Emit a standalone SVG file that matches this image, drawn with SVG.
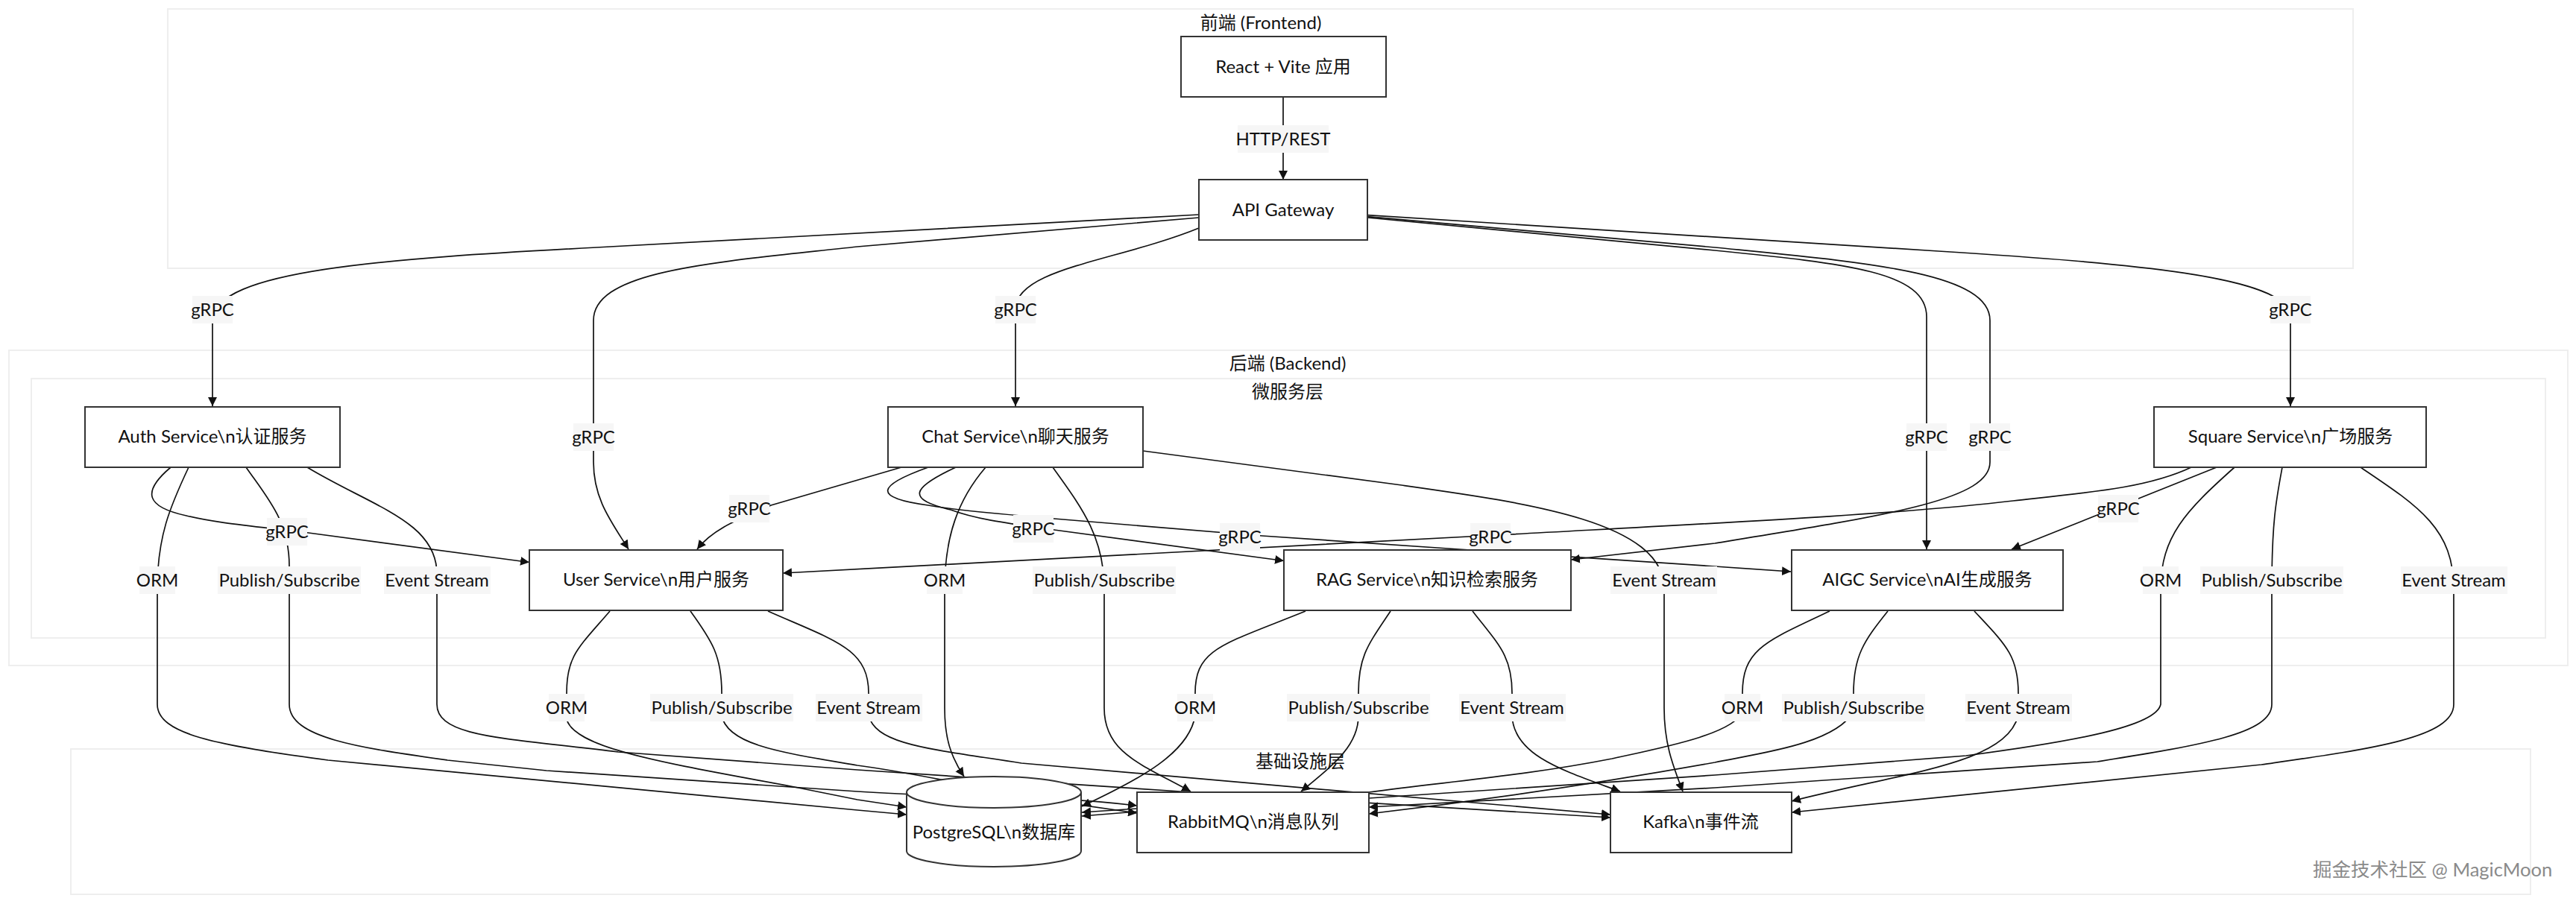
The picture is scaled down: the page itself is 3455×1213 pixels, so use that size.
<svg xmlns="http://www.w3.org/2000/svg" width="3455" height="1213" viewBox="0 0 3455 1213">
<defs>
<style>
text{font-family:"Lato","Noto Sans CJK SC",sans-serif;font-size:24px;fill:#111;text-anchor:middle}
.cluster{fill:#fff;stroke:#eee;stroke-width:2}
.node{fill:#fff;stroke:#333;stroke-width:2}
.edge{fill:none;stroke:#111;stroke-width:1.7;marker-end:url(#arrow)}
.lb{fill:#f6f6f6}
text.wm{fill:#8a8a8a;text-anchor:start;font-size:25.5px}
</style>
<marker id="arrow" markerUnits="userSpaceOnUse" viewBox="0 0 12 12" markerWidth="12" markerHeight="12" refX="12" refY="6" orient="auto"><path d="M0,0L12,6L0,12Z" fill="#111"/></marker>
</defs>
<rect width="3455" height="1213" fill="#fff"/>
<g id="clusters">
<g id="frontend"><rect class="cluster" x="225" y="12" width="2931" height="348"/><text x="1691" y="39">前端 (Frontend)</text></g>
<g id="backend"><rect class="cluster" x="12" y="470" width="3432" height="423"/><text x="1727" y="496">后端 (Backend)</text></g>
<g id="microservices"><rect class="cluster" x="42" y="508" width="3372" height="348"/><text x="1727" y="534">微服务层</text></g>
<g id="infrastructure"><rect class="cluster" x="95" y="1005" width="3299" height="195"/><text x="1744" y="1030">基础设施层</text></g>
</g>
<g id="connectors">
<path class="edge" d="M1721,130L1721,241"/>
<path class="edge" d="M1608,288L800,332C520,347 285,362 285,430L285,545"/>
<path class="edge" d="M1608,292L1150,331C960,352 796,362 796,430L796,620C796,670 820,700 843,737"/>
<path class="edge" d="M1608,306C1500,350 1362,360 1362,415L1362,545"/>
<path class="edge" d="M1834,288.6L2600,337C2850,353 3072,370 3072,425L3072,545"/>
<path class="edge" d="M1834,290.6L2300,332C2500,352 2669,365 2669,430L2669,620C2669,670 2540,690 2300,729L2107,751"/>
<path class="edge" d="M1834,292L2300,336C2480,354 2584,365 2584,425L2584,737"/>
<path class="edge" d="M229,627C190,660 195,680 250,692C290,702 340,706 414,715L710,754.5"/>
<path class="edge" d="M253,627C228,680 211,720 211,790L211,945C211,985 290,1000 440,1020L1150,1087L1216,1093"/>
<path class="edge" d="M330,627C360,670 388,700 388,760L388,945C388,990 480,1003 600,1020L733,1034L1150,1062C1300,1072 1400,1066 1525,1081"/>
<path class="edge" d="M412,627C500,680 586,700 586,770L586,945C586,990 680,990 829,1009L1150,1033L1583,1062L2160,1097"/>
<path class="edge" d="M1209,627L1034,678C1005,692 960,705 935,737"/>
<path class="edge" d="M1282,627C1222,655 1215,670 1275,684C1310,697 1350,702 1414,711L1722,752.5"/>
<path class="edge" d="M1245,627C1175,652 1170,668 1245,678C1290,686 1350,690 1414,696L1693,719L1957,737L2300,760L2402,767"/>
<path class="edge" d="M1322,627C1285,670 1267,720 1267,790L1267,950C1267,990 1275,1015 1293,1042"/>
<path class="edge" d="M1412,627C1450,680 1481,720 1481,790L1481,950C1481,1010 1530,1025 1597,1062"/>
<path class="edge" d="M1533,605L1880,651C2050,675 2232,700 2232,790L2232,950C2232,1000 2245,1030 2257,1062"/>
<path class="edge" d="M818,820C775,870 760,880 760,930L760,965C770,1005 900,1025 1063,1055.5L1150,1073L1216,1083"/>
<path class="edge" d="M926,820C955,860 968,880 968,930L968,960C975,1000 1050,1010 1150,1027C1250,1040 1350,1068 1525,1091"/>
<path class="edge" d="M1030,820C1120,860 1165,870 1165,930L1165,960C1175,1000 1250,1005 1370,1024L2160,1093"/>
<path class="edge" d="M1751,820C1640,865 1603,870 1603,930L1603,960C1595,1010 1530,1045 1451,1082"/>
<path class="edge" d="M1865,820C1835,865 1822,880 1822,930L1822,960C1822,1000 1790,1025 1745,1062"/>
<path class="edge" d="M1975,820C2010,865 2028,880 2028,930L2028,960C2030,1015 2100,1035 2173,1062"/>
<path class="edge" d="M2454,820C2370,860 2337,870 2337,930L2337,955C2325,985 2230,1003 2162,1018C2050,1040 1950,1048 1836,1063L1525,1085L1451,1090"/>
<path class="edge" d="M2532,820C2500,860 2486,880 2486,930L2486,955C2460,1000 2350,1012 2300,1023C2150,1050 1980,1075 1836,1092"/>
<path class="edge" d="M2648,820C2690,865 2707,880 2707,930L2707,960C2690,1025 2560,1035 2403,1075"/>
<path class="edge" d="M2939,627C2880,655 2800,661 2700,672C2550,690 2300,702 2026,717L1050,769"/>
<path class="edge" d="M2973,627L2698,737"/>
<path class="edge" d="M2997,627C2932,685 2898,720 2898,790L2898,945C2892,975 2780,995 2637,1014L2300,1040L1836,1071L1525,1089L1451,1095"/>
<path class="edge" d="M3061,627C3053,670 3047,700 3047,790L3047,945C3047,985 2950,1000 2813,1022L2300,1057L1836,1083"/>
<path class="edge" d="M3166,627C3245,680 3291,710 3291,790L3291,945C3291,990 3180,1005 3033,1026L2403,1090"/>
</g>
<g id="edge-labels">
<g id="l-http"><rect class="lb" x="1660" y="168" width="122" height="37"/><text x="1721" y="195">HTTP/REST</text></g>
<g><rect class="lb" x="258" y="397" width="54" height="37"/><text x="285" y="424">gRPC</text></g>
<g><rect class="lb" x="769" y="568" width="54" height="37"/><text x="796" y="595">gRPC</text></g>
<g><rect class="lb" x="1335" y="397" width="54" height="37"/><text x="1362" y="424">gRPC</text></g>
<g><rect class="lb" x="2557" y="568" width="54" height="37"/><text x="2584" y="595">gRPC</text></g>
<g><rect class="lb" x="2642" y="568" width="54" height="37"/><text x="2669" y="595">gRPC</text></g>
<g><rect class="lb" x="3045" y="397" width="54" height="37"/><text x="3072" y="424">gRPC</text></g>
<g><rect class="lb" x="358" y="695" width="54" height="37"/><text x="385" y="722">gRPC</text></g>
<g><rect class="lb" x="978" y="664" width="54" height="37"/><text x="1005" y="691">gRPC</text></g>
<g><rect class="lb" x="1359" y="691" width="54" height="37"/><text x="1386" y="718">gRPC</text></g>
<g><rect class="lb" x="1636" y="702" width="54" height="37"/><text x="1663" y="729">gRPC</text></g>
<g><rect class="lb" x="1972" y="702" width="54" height="37"/><text x="1999" y="729">gRPC</text></g>
<g><rect class="lb" x="2814" y="664" width="54" height="37"/><text x="2841" y="691">gRPC</text></g>
<g><rect class="lb" x="187" y="760" width="48" height="37"/><text x="211" y="787">ORM</text></g>
<g><rect class="lb" x="292" y="760" width="192" height="37"/><text x="388" y="787">Publish/Subscribe</text></g>
<g><rect class="lb" x="515" y="760" width="143" height="37"/><text x="586" y="787">Event Stream</text></g>
<g><rect class="lb" x="1243" y="760" width="48" height="37"/><text x="1267" y="787">ORM</text></g>
<g><rect class="lb" x="1385" y="760" width="192" height="37"/><text x="1481" y="787">Publish/Subscribe</text></g>
<g><rect class="lb" x="2160" y="760" width="143" height="37"/><text x="2232" y="787">Event Stream</text></g>
<g><rect class="lb" x="2874" y="760" width="48" height="37"/><text x="2898" y="787">ORM</text></g>
<g><rect class="lb" x="2951" y="760" width="192" height="37"/><text x="3047" y="787">Publish/Subscribe</text></g>
<g><rect class="lb" x="3220" y="760" width="143" height="37"/><text x="3291" y="787">Event Stream</text></g>
<g><rect class="lb" x="736" y="931" width="48" height="37"/><text x="760" y="958">ORM</text></g>
<g><rect class="lb" x="872" y="931" width="192" height="37"/><text x="968" y="958">Publish/Subscribe</text></g>
<g><rect class="lb" x="1094" y="931" width="143" height="37"/><text x="1165" y="958">Event Stream</text></g>
<g><rect class="lb" x="1579" y="931" width="48" height="37"/><text x="1603" y="958">ORM</text></g>
<g><rect class="lb" x="1726" y="931" width="192" height="37"/><text x="1822" y="958">Publish/Subscribe</text></g>
<g><rect class="lb" x="1957" y="931" width="143" height="37"/><text x="2028" y="958">Event Stream</text></g>
<g><rect class="lb" x="2313" y="931" width="48" height="37"/><text x="2337" y="958">ORM</text></g>
<g><rect class="lb" x="2390" y="931" width="192" height="37"/><text x="2486" y="958">Publish/Subscribe</text></g>
<g><rect class="lb" x="2636" y="931" width="143" height="37"/><text x="2707" y="958">Event Stream</text></g>
</g>
<g id="react"><rect class="node" x="1584" y="49" width="275" height="81"/><text x="1721" y="98">React + Vite 应用</text></g>
<g id="api-gateway"><rect class="node" x="1608" y="241" width="226" height="81"/><text x="1721" y="290">API Gateway</text></g>
<g id="auth"><rect class="node" x="114" y="546" width="342" height="81"/><text x="285" y="594">Auth Service\n认证服务</text></g>
<g id="chat"><rect class="node" x="1191" y="546" width="342" height="81"/><text x="1362" y="594">Chat Service\n聊天服务</text></g>
<g id="square"><rect class="node" x="2889" y="546" width="365" height="81"/><text x="3072" y="594">Square Service\n广场服务</text></g>
<g id="user"><rect class="node" x="710" y="738" width="340" height="81"/><text x="880" y="786">User Service\n用户服务</text></g>
<g id="rag"><rect class="node" x="1722" y="738" width="385" height="81"/><text x="1914" y="786">RAG Service\n知识检索服务</text></g>
<g id="aigc"><rect class="node" x="2403" y="738" width="364" height="81"/><text x="2585" y="786">AIGC Service\nAI生成服务</text></g>
<g id="postgres"><path class="node" d="M1216,1063a117,21 0 0 1 234,0L1450,1142a117,21 0 0 1 -234,0Z"/><path class="node" fill="none" d="M1216,1063a117,21 0 0 0 234,0"/><text x="1333" y="1125">PostgreSQL\n数据库</text></g>
<g id="rabbitmq"><rect class="node" x="1525" y="1063" width="311" height="81"/><text x="1681" y="1111">RabbitMQ\n消息队列</text></g>
<g id="kafka"><rect class="node" x="2160" y="1063" width="243" height="81"/><text x="2281" y="1111">Kafka\n事件流</text></g>
<text class="wm" x="3102" y="1176">掘金技术社区 @ MagicMoon</text>
</svg>
